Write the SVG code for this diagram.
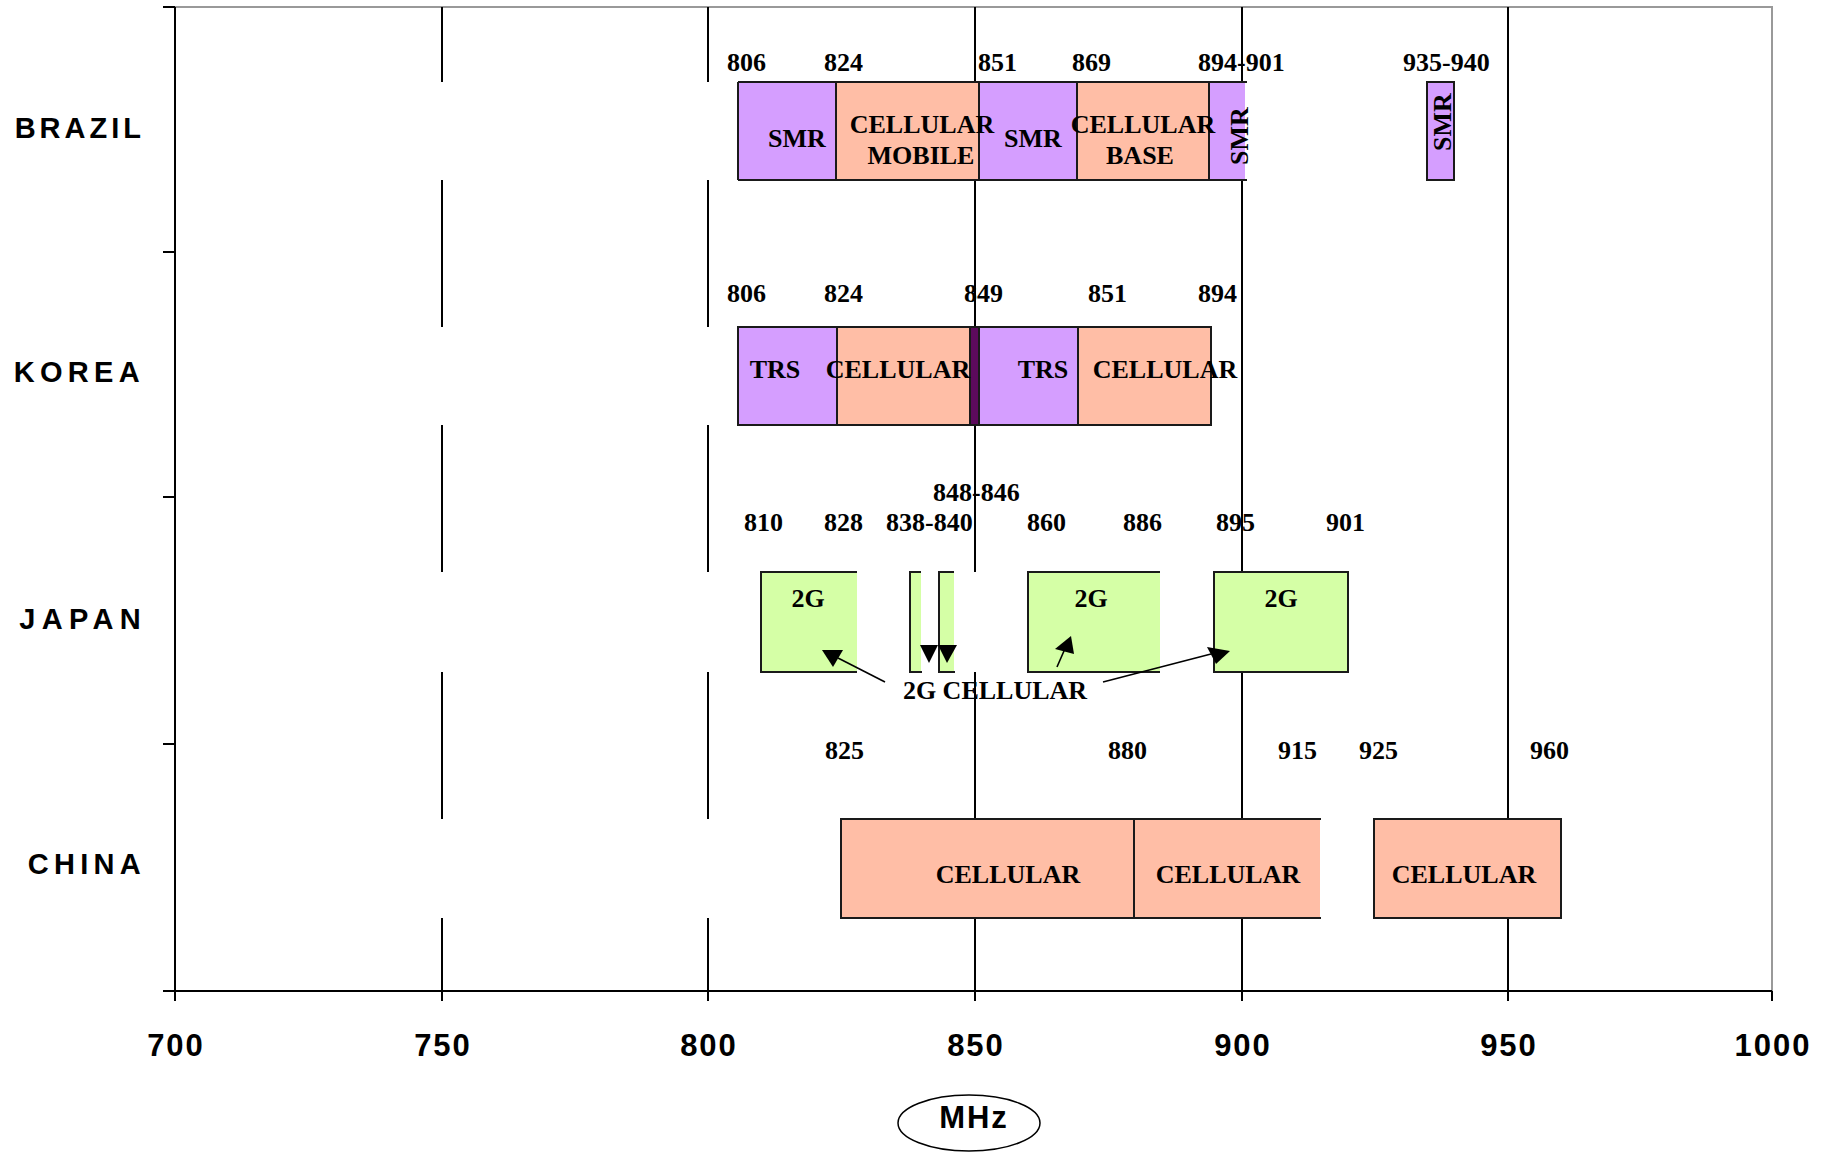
<svg xmlns="http://www.w3.org/2000/svg" width="1830" height="1152" viewBox="0 0 1830 1152">
<style>
  .grid{stroke:#000;stroke-width:2;fill:none}
  .frame{stroke:#999;stroke-width:2;fill:none}
  .edge{stroke:#1a1a1a;stroke-width:2;fill:none}
  .smr{fill:#D59EFF}
  .cell{fill:#FFBEA6}
  .g2{fill:#D5FFA6}
  .dark{fill:#5C0A5C}
  .freq{font-family:"Liberation Serif","Times New Roman",serif;font-weight:bold;font-size:26px;fill:#000}
  .lbl{font-family:"Liberation Serif","Times New Roman",serif;font-weight:bold;font-size:26px;fill:#000;text-anchor:middle}
  .country{font-family:"Liberation Sans",Arial,sans-serif;font-weight:bold;font-size:29px;letter-spacing:4px;text-anchor:end;fill:#000}
  .axis{font-family:"Liberation Sans",Arial,sans-serif;font-weight:bold;font-size:31px;letter-spacing:2px;text-anchor:middle;fill:#000}
  .conn{stroke:#000;stroke-width:1.6;fill:none}
  .head{fill:#000}
</style>

<g id="frame">
  <path class="frame" d="M175,7 H1772 V991"/>
</g>

<g id="gridlines">
  <path class="grid" d="M442,7 V82 M442,180 V327 M442,425 V572 M442,672 V819 M442,918 V1001"/>
  <path class="grid" d="M708,7 V82 M708,180 V327 M708,425 V572 M708,672 V819 M708,918 V1001"/>
  <path class="grid" d="M975,7 V572 M975,672 V1001"/>
  <path class="grid" d="M1242,7 V1001"/>
  <path class="grid" d="M1508,7 V1001"/>
  <path class="grid" d="M1772,991 V1001"/>
</g>

<g id="axes">
  <path class="grid" d="M175,7 V1001 M163,7 H175 M163,252 H175 M163,497 H175 M163,744 H175 M163,991 H1772"/>
</g>

<g id="country-labels">
  <text class="country" x="145" y="138">BRAZIL</text>
  <text class="country" x="145" y="382" style="letter-spacing:5.3px">KOREA</text>
  <text class="country" x="147" y="629" style="letter-spacing:6.3px">JAPAN</text>
  <text class="country" x="146" y="874" style="letter-spacing:5.3px">CHINA</text>
</g>

<g id="x-labels">
  <text class="axis" x="176" y="1056">700</text>
  <text class="axis" x="443" y="1056">750</text>
  <text class="axis" x="709" y="1056">800</text>
  <text class="axis" x="976" y="1056">850</text>
  <text class="axis" x="1243" y="1056">900</text>
  <text class="axis" x="1509" y="1056">950</text>
  <text class="axis" x="1773" y="1056">1000</text>
</g>

<g id="unit">
  <ellipse cx="969" cy="1123" rx="71" ry="28" fill="none" stroke="#000" stroke-width="1.5"/>
  <text class="axis" x="974" y="1128">MHz</text>
</g>

<g id="freq-labels">
  <text class="freq" x="727" y="71">806</text>
  <text class="freq" x="824" y="71">824</text>
  <text class="freq" x="978" y="71">851</text>
  <text class="freq" x="1072" y="71">869</text>
  <text class="freq" x="1198" y="71">894-901</text>
  <text class="freq" x="1403" y="71">935-940</text>

  <text class="freq" x="727" y="302">806</text>
  <text class="freq" x="824" y="302">824</text>
  <text class="freq" x="964" y="302">849</text>
  <text class="freq" x="1088" y="302">851</text>
  <text class="freq" x="1198" y="302">894</text>

  <text class="freq" x="933" y="501">848-846</text>
  <text class="freq" x="744" y="531">810</text>
  <text class="freq" x="824" y="531">828</text>
  <text class="freq" x="886" y="531">838-840</text>
  <text class="freq" x="1027" y="531">860</text>
  <text class="freq" x="1123" y="531">886</text>
  <text class="freq" x="1216" y="531">895</text>
  <text class="freq" x="1326" y="531">901</text>

  <text class="freq" x="825" y="759">825</text>
  <text class="freq" x="1108" y="759">880</text>
  <text class="freq" x="1278" y="759">915</text>
  <text class="freq" x="1359" y="759">925</text>
  <text class="freq" x="1530" y="759">960</text>
</g>

<g id="brazil">
  <g id="brazil-smr-806">
    <rect class="smr" x="738" y="82" width="98" height="98"/>
    <text class="lbl" x="797" y="147">SMR</text>
  </g>
  <g id="brazil-cellular-mobile">
    <rect class="cell" x="836" y="82" width="143" height="98"/>
  </g>
  <g id="brazil-smr-851">
    <rect class="smr" x="979" y="82" width="98" height="98"/>
  </g>
  <g id="brazil-cellular-base">
    <rect class="cell" x="1077" y="82" width="132" height="98"/>
  </g>
  <g id="brazil-smr-894">
    <rect class="smr" x="1209" y="82" width="36" height="98"/>
  </g>
  <path class="edge" d="M738,82 H1247 M738,180 H1247 M738,82 V180 M836,82 V180 M979,82 V180 M1077,82 V180 M1209,82 V180"/>
  <text class="lbl" x="922" y="133">CELLULAR</text>
  <text class="lbl" x="921" y="164">MOBILE</text>
  <text class="lbl" x="1033" y="147">SMR</text>
  <text class="lbl" x="1143" y="133">CELLULAR</text>
  <text class="lbl" x="1140" y="164">BASE</text>
  <text class="lbl" transform="translate(1248,136) rotate(-90)" x="0" y="0">SMR</text>
  <g id="brazil-smr-935">
    <rect class="smr edge" x="1427" y="82" width="27" height="98" style="fill:#D59EFF"/>
    <text class="lbl" transform="translate(1451,122) rotate(-90)" x="0" y="0">SMR</text>
  </g>
</g>

<g id="korea">
  <g id="korea-trs-806"><rect class="smr" x="738" y="327" width="99" height="98"/></g>
  <g id="korea-cellular-824"><rect class="cell" x="837" y="327" width="133" height="98"/></g>
  <g id="korea-849"><rect class="dark" x="970" y="327" width="9" height="98"/></g>
  <g id="korea-trs-851"><rect class="smr" x="979" y="327" width="99" height="98"/></g>
  <g id="korea-cellular-869"><rect class="cell" x="1078" y="327" width="133" height="98"/></g>
  <path class="edge" d="M738,327 H1211 V425 H738 Z M837,327 V425 M970,327 V425 M979,327 V425 M1078,327 V425"/>
  <text class="lbl" x="775" y="378">TRS</text>
  <text class="lbl" x="898" y="378">CELLULAR</text>
  <text class="lbl" x="1043" y="378">TRS</text>
  <text class="lbl" x="1165" y="378">CELLULAR</text>
</g>

<g id="japan">
  <g id="japan-2g-810">
    <rect class="g2" x="761" y="572" width="96" height="100"/>
    <path class="edge" d="M857,572 H761 V672 H857"/>
    <text class="lbl" x="808" y="607">2G</text>
  </g>
  <g id="japan-838">
    <rect class="g2" x="910" y="572" width="11" height="100"/>
    <path class="edge" d="M921,572 H910 V672 H922"/>
  </g>
  <g id="japan-845">
    <rect class="g2" x="939" y="572" width="15" height="100"/>
    <path class="edge" d="M954,572 H939 V672 H955"/>
  </g>
  <g id="japan-2g-860">
    <rect class="g2" x="1028" y="572" width="132" height="100"/>
    <path class="edge" d="M1160,572 H1028 V672 H1160"/>
    <text class="lbl" x="1091" y="607">2G</text>
  </g>
  <g id="japan-2g-895">
    <rect class="g2 edge" x="1214" y="572" width="134" height="100" style="fill:#D5FFA6"/>
    <text class="lbl" x="1281" y="607">2G</text>
  </g>
</g>

<g id="china">
  <g id="china-cellular-825">
    <rect class="cell" x="841" y="819" width="293" height="99"/>
    <text class="lbl" x="1008" y="883">CELLULAR</text>
  </g>
  <g id="china-cellular-880">
    <rect class="cell" x="1134" y="819" width="186" height="99"/>
    <text class="lbl" x="1228" y="883">CELLULAR</text>
  </g>
  <path class="edge" d="M1321,819 H841 V918 H1321 M1134,819 V918"/>
  <g id="china-cellular-925">
    <rect class="cell edge" x="1374" y="819" width="187" height="99" style="fill:#FFBEA6"/>
    <text class="lbl" x="1464" y="883">CELLULAR</text>
  </g>
</g>

<g id="callout">
  <text class="lbl" x="995" y="699">2G CELLULAR</text>
</g>
<path class="grid" d="M975,672 V710"/>

<g id="connectors">
  <line class="conn" x1="885" y1="682" x2="838" y2="658"/>
  <polygon class="head" points="822,650 843,650 833,667"/>
  <polygon class="head" points="920,645 938,645 929,663"/>
  <polygon class="head" points="938,645 957,645 947,663"/>
  <line class="conn" x1="1057" y1="667" x2="1067" y2="644"/>
  <polygon class="head" points="1071,636 1055,649 1074,654"/>
  <line class="conn" x1="1103" y1="682" x2="1211" y2="654"/>
  <polygon class="head" points="1207,647 1230,651 1216,664"/>
</g>
</svg>
